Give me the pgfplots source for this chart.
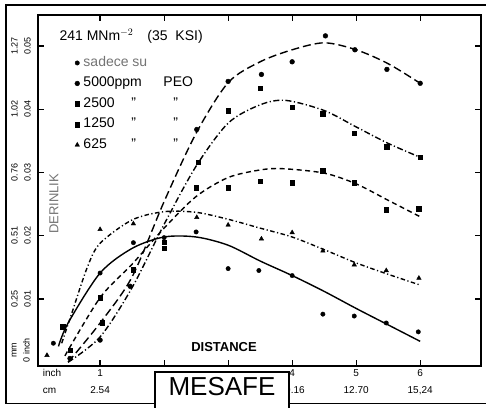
\documentclass[border=0pt]{standalone}
\usepackage{fontspec}
\setmainfont{Liberation Sans}
\usepackage{pgfplots}
\pgfplotsset{compat=1.18}

\begin{document}
\begin{tikzpicture}[x=1pt,y=1pt]
\useasboundingbox (0,0) rectangle (486,407);
\clip (0,0) rectangle (486,407);
\draw[line width=1.6pt] (495,402) -- (6,402) -- (6,3.5) -- (495,3.5);
\begin{axis}[
  at={(38pt,41pt)}, anchor=south west,
  scale only axis, width=443pt, height=351pt,
  xmin=0.03, xmax=6.95, ymin=-0.0006, ymax=0.0549,
  axis line style={line width=1.4pt},
  xtick={1,...,6},
  xticklabels={{1\\2.54},{},{},{4\\10.16},{5\\12.70},{6\\15,24}},
  extra x ticks={0.25}, extra x tick labels={{inch\\cm}},
  extra x tick style={major tick length=0pt, xticklabel style={align=left}},
  ytick={0.01,0.02,0.03,0.04,0.05},
  yticklabels={{0.25\\0.01},{0.51\\0.02},{0.76\\0.03},{1.02\\0.04},{1.27\\0.05}},
  scaled y ticks=false,
  major tick length=6pt,
  tick style={line width=1.2pt, black},
  xticklabel style={font=\fontsize{10}{17}\selectfont, align=center, anchor=north, inner sep=1pt, yshift=-2pt},
  yticklabel style={font=\fontsize{9}{13}\selectfont, align=center, xshift=-6pt, rotate=90, anchor=south, inner sep=1pt},
  legend style={draw=none, fill=none, at={(0.076,0.891)}, anchor=north west,
    row sep=5.5pt, font=\fontsize{14}{16}\selectfont,
    nodes={text height=10pt, text depth=3pt, inner sep=1pt}},
  legend cell align=left,
  legend image code/.code={\draw[#1,only marks] plot coordinates {(0pt,0pt)}; \path (-2pt,0pt) (5pt,0pt);},
]
% measured points
\addplot[only marks, mark=*, mark size=2.2pt, black] coordinates {
(0.27,0.0030) (1.00,0.0141) (1.52,0.0189) (2.00,0.0197) (2.50,0.0206) (3.00,0.0148)
(3.48,0.0145) (4.00,0.0137) (4.48,0.0076) (4.97,0.0073) (5.47,0.0062) (5.97,0.0048)};
\addlegendentry{\textcolor{black!55}{sadece su}}
\addplot[only marks, mark=*, mark size=2.4pt, black] coordinates {
(0.53,0.0006) (1.00,0.0035) (1.47,0.0120) (2.51,0.0368) (3.00,0.0444) (3.52,0.0455)
(4.00,0.0475) (4.52,0.0516) (4.98,0.0494) (5.48,0.0463) (6.00,0.0441)};
\addlegendentry{\makebox[80pt][l]{5000ppm}PEO}
\addplot[only marks, mark=square*, mark size=2.3pt, black] coordinates {
(0.53,0.0019) (1.03,0.0062) (1.52,0.0146) (2.00,0.0180) (2.53,0.0316) (3.00,0.0398)
(3.50,0.0433) (4.00,0.0403) (4.48,0.0393) (4.97,0.0362) (5.48,0.0341) (6.00,0.0324)};
\addlegendentry{\makebox[48pt][l]{2500}\makebox[42pt][l]{''}''}
\addplot[only marks, mark=square*, mark size=2.3pt, black] coordinates {
(0.42,0.0056) (1.00,0.0102) (2.00,0.0190) (2.50,0.0276) (3.00,0.0276) (3.50,0.0286)
(4.00,0.0284) (4.48,0.0303) (4.97,0.0284) (5.47,0.0241) (5.98,0.0243)};
\addlegendentry{\makebox[48pt][l]{1250}\makebox[42pt][l]{''}''}
\addplot[only marks, mark=triangle*, mark size=2.6pt, black] coordinates {
(0.17,0.0011) (1.00,0.0210) (1.52,0.0219) (2.51,0.0229) (3.00,0.0217) (3.52,0.0195)
(4.00,0.0205) (4.48,0.0176) (4.97,0.0154) (5.47,0.0145) (5.98,0.0133)};
\addlegendentry{\makebox[48pt][l]{625}\makebox[42pt][l]{''}''}
% fitted curves
\addplot[forget plot, smooth, no marks, black, line width=1.4pt] coordinates {
(0.35,0.0025) (0.5,0.0062) (1.0,0.0141) (1.5,0.0180) (2.0,0.0198) (2.5,0.0198) (3.0,0.0185)
(3.5,0.0160) (4.0,0.0137) (4.5,0.0112) (5.0,0.0085) (5.5,0.0059) (6.0,0.0033)};
\addplot[forget plot, smooth, no marks, black, line width=1.4pt, dash pattern=on 8pt off 4pt] coordinates {
(0.5,0.0000) (1.0,0.0062) (1.5,0.0135) (2.0,0.0254) (2.5,0.0362) (3.0,0.0442) (3.5,0.0475)
(4.0,0.0494) (4.5,0.0505) (5.0,0.0494) (5.5,0.0472) (6.0,0.0441)};
\addplot[forget plot, smooth, no marks, black, line width=1.4pt, dash pattern=on 6pt off 2.5pt on 1.2pt off 2.5pt] coordinates {
(0.5,0.0000) (1.0,0.0040) (1.5,0.0118) (2.0,0.0218) (2.5,0.0310) (3.0,0.0378) (3.5,0.0407)
(3.9,0.0414) (4.5,0.0398) (5.0,0.0372) (5.5,0.0346) (6.0,0.0324)};
\addplot[forget plot, smooth, no marks, black, line width=1.4pt, dash pattern=on 5pt off 3.5pt] coordinates {
(0.45,0.0010) (1.0,0.0102) (1.5,0.0155) (2.0,0.0212) (2.5,0.0262) (3.0,0.0292) (3.5,0.0304)
(3.85,0.0306) (4.5,0.0299) (5.0,0.0282) (5.5,0.0256) (6.0,0.0230)};
\addplot[forget plot, smooth, no marks, black, line width=1.4pt, dash pattern=on 4.5pt off 2.5pt on 1.2pt off 2.5pt] coordinates {
(0.40,0.0030) (0.55,0.0075) (0.8,0.0150) (1.0,0.0188) (1.5,0.0225) (2.0,0.0238) (2.5,0.0237)
(3.0,0.0226) (3.5,0.0212) (4.0,0.0198) (4.5,0.0178) (5.0,0.0157) (5.5,0.0139) (6.0,0.0122)};
\end{axis}
% texts
\node[rotate=90, anchor=south, align=center, font=\fontsize{9}{13}\selectfont, inner sep=1pt] at (31,57) {mm\\0 inch};
\node[anchor=west, font=\fontsize{14}{16}\selectfont] at (56,371) {241 MNm$^{-2}$\quad(35\ \ KSI)};
\node[rotate=90, font=\fontsize{13}{15}\selectfont, text=black!55] at (54,203) {DERINLIK};
\node[font=\bfseries\fontsize{13}{15}\selectfont] at (224,60) {DISTANCE};
\draw[line width=1.3pt, fill=white] (155,35) rectangle (289,-6);
\node[font=\fontsize{26}{28}\selectfont] at (222,20.5) {MESAFE};
\end{tikzpicture}
\end{document}
